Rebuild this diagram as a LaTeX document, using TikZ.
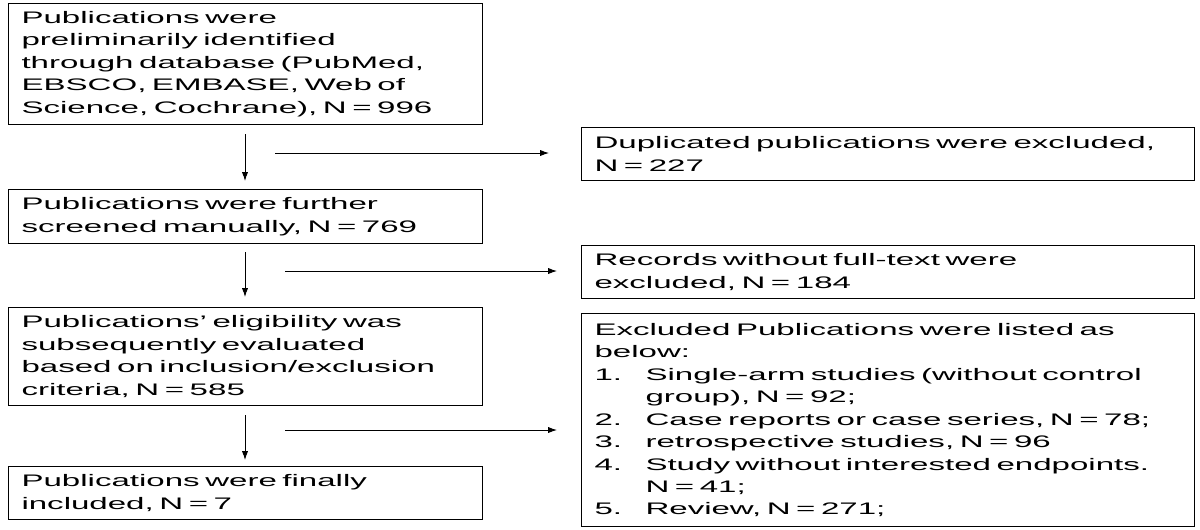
\documentclass[tikz,border=0pt]{standalone}
\usepackage{fontspec}
\setmainfont{Liberation Sans}[FakeStretch=1.98]
\usetikzlibrary{arrows.meta}
\newcommand{\itm}[2]{\makebox[1.02cm][l]{#1}#2}
\tikzset{
  box/.style={draw, line width=0.6pt, anchor=north west, align=left, inner xsep=0.26cm, inner ysep=0.14cm,
    font=\fontsize{9.5}{12.8}\selectfont},
  leftbox/.style={box, text width=9.48cm-0.52cm},
  rightbox/.style={box, text width=12.26cm-0.52cm},
  arr/.style={-{Latex[length=5pt,width=3.5pt]}, line width=0.5pt}
}
\begin{document}
\begin{tikzpicture}
  \useasboundingbox (0,0) rectangle (24,-10.58);
  %Left column
  \node[leftbox, minimum height=2.42cm] (ident) at (0.16,-0.06) {Publications were\\preliminarily identified\\through database (PubMed,\\EBSCO, EMBASE, Web of\\Science, Cochrane), N = 996};
  \node[leftbox, minimum height=1.08cm] (screen) at (0.16,-3.78) {Publications were further\\screened manually, N = 769};
  \node[leftbox, minimum height=1.96cm] (elig) at (0.16,-6.14) {Publications' eligibility was\\subsequently evaluated\\based on inclusion/exclusion\\criteria, N = 585};
  \node[leftbox, minimum height=1.06cm] (incl) at (0.16,-9.32) {Publications were finally\\included, N = 7};
  %Right column
  \node[rightbox, minimum height=1.06cm] (dup) at (11.62,-2.54) {Duplicated publications were excluded,\\N = 227};
  \node[rightbox, minimum height=1.06cm] (full) at (11.62,-4.90) {Records without full-text were\\excluded, N = 184};
  \node[rightbox, minimum height=4.26cm] (excl) at (11.62,-6.26) {Excluded Publications were listed as\\below:\\
    \itm{1.}{Single-arm studies (without control}\\\hspace*{1.02cm}group), N = 92;\\
    \itm{2.}{Case reports or case series, N = 78;}\\
    \itm{3.}{retrospective studies, N = 96}\\
    \itm{4.}{Study without interested endpoints.}\\\hspace*{1.02cm}N = 41;\\
    \itm{5.}{Review, N = 271;}};
  %Arrow ends
  \coordinate (v1a) at (4.9,-2.68); \coordinate (v1b) at (4.9,-3.62);
  \coordinate (v2a) at (4.9,-5.04); \coordinate (v2b) at (4.9,-5.94);
  \coordinate (v3a) at (4.9,-8.30); \coordinate (v3b) at (4.9,-9.20);
  \coordinate (h1a) at (5.50,-3.06); \coordinate (h1b) at (10.98,-3.06);
  \coordinate (h2a) at (5.70,-5.42); \coordinate (h2b) at (11.14,-5.42);
  \coordinate (h3a) at (5.70,-8.60); \coordinate (h3b) at (11.14,-8.60);
  \draw[arr] (v1a) -- (v1b);
  \draw[arr] (v2a) -- (v2b);
  \draw[arr] (v3a) -- (v3b);
  \draw[arr] (h1a) -- (h1b);
  \draw[arr] (h2a) -- (h2b);
  \draw[arr] (h3a) -- (h3b);
\end{tikzpicture}
\end{document}
